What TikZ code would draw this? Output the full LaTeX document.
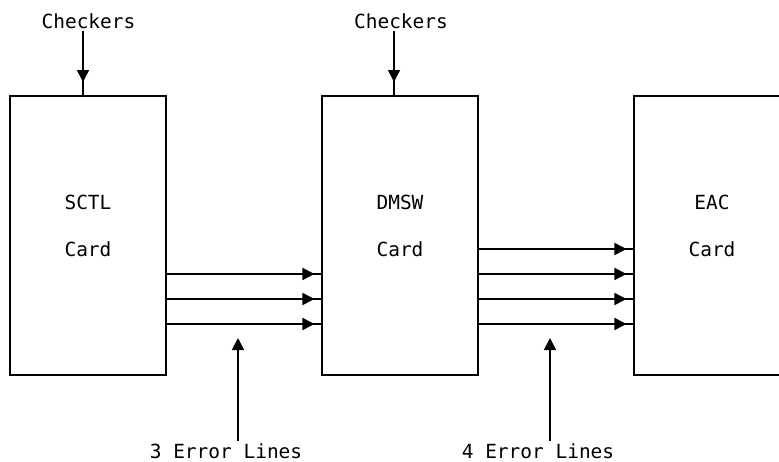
\documentclass[tikz,border=0pt]{standalone}
\usepackage{fontspec}
\setmonofont{DejaVu Sans Mono}
\usetikzlibrary{arrows.meta,decorations.markings}

\tikzset{
  card/.style={draw, line width=1.3pt, minimum width=117pt, minimum height=209.25pt, inner sep=0pt},
  cardtext/.style={font=\ttfamily\fontsize{14.6}{17}\selectfont, align=center, inner sep=0pt},
  label/.style={font=\ttfamily\fontsize{14.6}{17}\selectfont, inner sep=1.5pt},
  tipat/.style={line width=1.3pt, postaction={decorate},
    decoration={markings, mark=at position #1 with {\arrow{Triangle[length=9pt,width=9pt]}}}},
  upline/.style={line width=1.3pt, -{Triangle[length=9pt,width=9pt]}}
}

\begin{document}
\begin{tikzpicture}[x=0.75pt,y=0.75pt,yscale=-1,xscale=1]
\useasboundingbox (0,0) rectangle (779,461);
\clip (0,0) rectangle (779,461);

% cards
\node (sctl) [card] at (88,235.5) {};
\node (dmsw) [card] at (400,235.5) {};
\node (eac) [card] at (712,235.5) {};

% card names
\node (sctlname) [cardtext] at (88,226) {SCTL\\[18pt]Card};
\node (dmswname) [cardtext] at (400,226) {DMSW\\[18pt]Card};
\node (eacname) [cardtext] at (712,226) {EAC\\[18pt]Card};

% checkers
\node (chk1) [label, anchor=base] at (88.5,28) {Checkers};
\node (chk2) [label, anchor=base] at (401,28) {Checkers};
\coordinate (in1) at (83,96);
\coordinate (in2) at (394,96);
\draw[tipat=-10.5pt] (chk1.south -| in1) -- (in1);
\draw[tipat=-10.5pt] (chk2.south -| in2) -- (in2);

% error lines
\foreach \y in {274,299,324}
  \draw[tipat=-5pt] (sctl.east |- 0,\y) -- (dmsw.west |- 0,\y);
\foreach \y in {249,274,299,324}
  \draw[tipat=-5pt] (dmsw.east |- 0,\y) -- (eac.west |- 0,\y);

% bottom labels
\node (err3) [label, anchor=base] at (226,458) {3 Error Lines};
\node (err4) [label, anchor=base] at (538,458) {4 Error Lines};
\coordinate (up3) at (238,338);
\coordinate (up4) at (550,338);
\draw[upline] (err3.north -| up3) -- (up3);
\draw[upline] (err4.north -| up4) -- (up4);

\end{tikzpicture}
\end{document}
